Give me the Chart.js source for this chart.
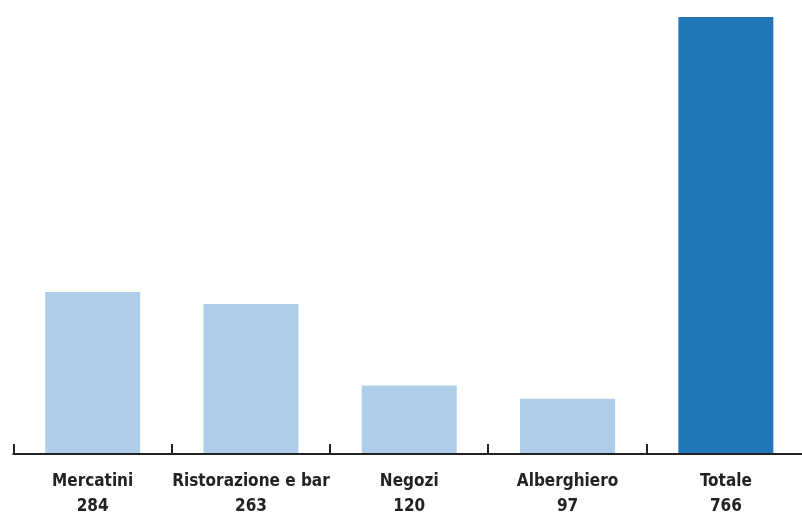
<!DOCTYPE html>
<html>
<head>
<meta charset="utf-8">
<script src="https://cdn.jsdelivr.net/npm/chart.js@4"></script>
<style>
  html, body { margin: 0; padding: 0; background: #fff; overflow: hidden; }
  #wrap { width: 802px; height: 515px; overflow: hidden; }
</style>
</head>
<body>
<div id="wrap"><canvas id="c" width="806" height="515"></canvas></div>
<script>
// Addetti per settore
const categories = ["Mercatini", "Ristorazione e bar", "Negozi", "Alberghiero", "Totale"];
const values = [284, 263, 120, 97, 766];
const barColors = ["#aecde8", "#aecde8", "#aecde8", "#aecde8", "#2277b8"];

// Two-line category labels: name, then the value
const tickLabels = categories.map((c, i) => [c, String(values[i])]);

// Upward tick marks at the category boundaries along the baseline
const boundaryTicks = {
  id: "boundaryTicks",
  afterDatasetsDraw(chart) {
    const { ctx, scales: { x }, chartArea } = chart;
    const n = categories.length;
    const xs = [];
    for (let i = 0; i <= n; i++) {
      if (i === 0) xs.push(x.left);
      else if (i === n) xs.push(x.right);
      else xs.push((x.getPixelForValue(i - 1) + x.getPixelForValue(i)) / 2);
    }
    const y0 = chartArea.bottom;
    ctx.save();
    ctx.strokeStyle = "#222";
    ctx.lineWidth = 2;
    ctx.beginPath();
    ctx.moveTo(x.left - 1, y0);
    ctx.lineTo(x.right + 1, y0);
    xs.forEach(px => {
      ctx.moveTo(Math.round(px), y0);
      ctx.lineTo(Math.round(px), y0 - 10);
    });
    ctx.stroke();
    ctx.restore();
  }
};

new Chart(document.getElementById("c"), {
  type: "bar",
  data: {
    labels: tickLabels,
    datasets: [{
      data: values,
      backgroundColor: barColors,
      borderWidth: 0,
      barPercentage: 0.6,
      categoryPercentage: 1
    }]
  },
  options: {
    responsive: false,
    animation: false,
    layout: { padding: { left: 13.5, right: 1, top: 17, bottom: 0 } },
    plugins: { legend: { display: false }, tooltip: { enabled: false } },
    scales: {
      x: {
        grid: { display: false, drawTicks: false },
        border: { display: false },
        ticks: {
          padding: 15,
          color: "#222",
          maxRotation: 0,
          autoSkip: false,
          font: { family: "'DejaVu Sans Condensed', sans-serif", weight: "bold", size: 17, lineHeight: 1.47 }
        },
        afterFit(s) { s.height = 61; }
      },
      y: {
        display: false,
        min: 0,
        max: Math.max(...values)
      }
    }
  },
  plugins: [boundaryTicks]
});
</script>
</body>
</html>
